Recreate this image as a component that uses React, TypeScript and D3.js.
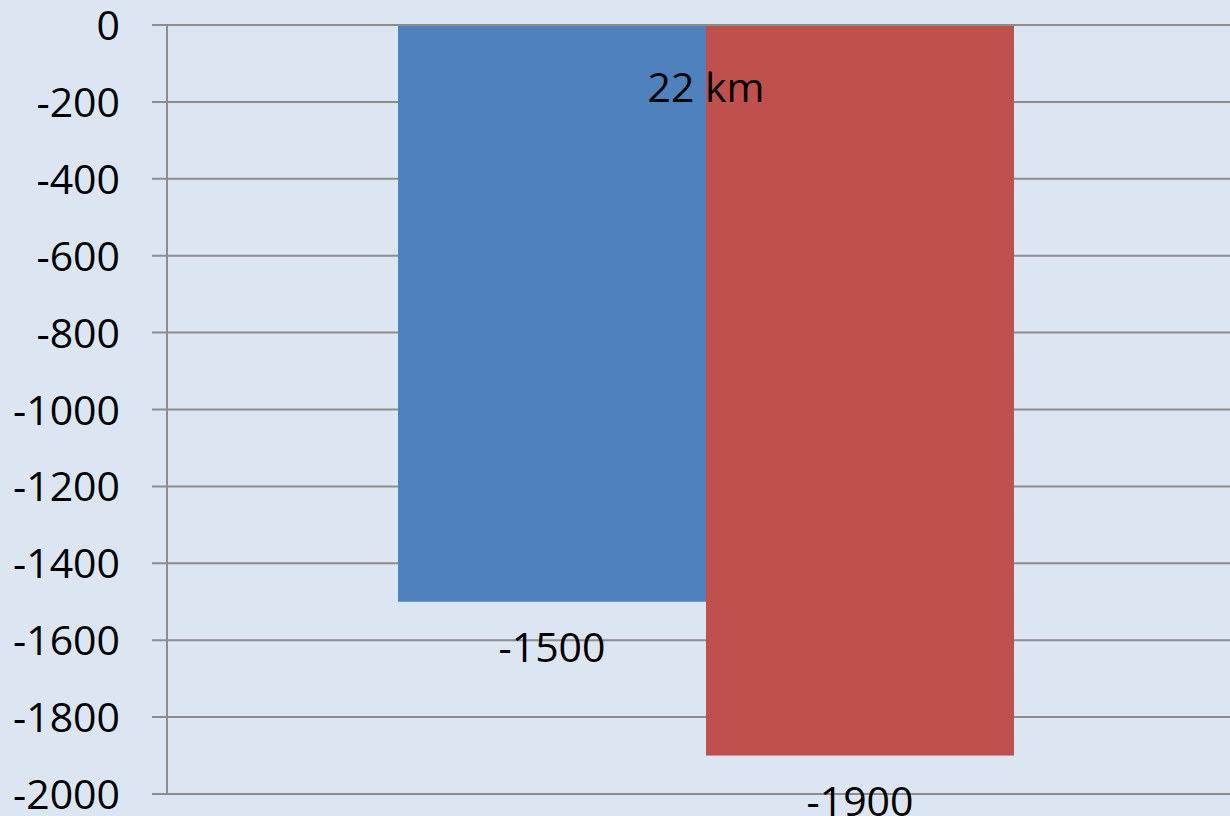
import React from "react";
import * as d3 from "d3";

const categories = ["22 km"];
const seriesNames = ["A", "B"];
const seriesValues = [-1500, -1900];
const seriesColors = ["#4F81BD", "#C0504D"];
const yTicks = [0, -200, -400, -600, -800, -1000, -1200, -1400, -1600, -1800, -2000];

const W = 1230;
const H = 816;
const FONT = "'Open Sans', 'Noto Sans', sans-serif";

export default function App() {
  const y = d3.scaleLinear().domain([0, -2000]).range([25, 794]);
  const x0 = d3.scaleBand<string>().domain(categories).range([167, 1245]).paddingInner(0).paddingOuter(0.375);
  const x1 = d3.scaleBand<string>().domain(seriesNames).range([0, x0.bandwidth()]).padding(0);
  const axisX = 167;
  const cat = categories[0];

  return (
    <div style={{ position: "fixed", left: 0, top: 0, width: W, height: H }}>
      <svg width={W} height={H} style={{ display: "block", background: "#DCE6F2" }}>
        <rect x={0} y={0} width={W} height={H} fill="#DCE6F2" />
        {yTicks.map((t) => (
          <g key={t}>
            <line x1={152} x2={W} y1={y(t)} y2={y(t)} stroke="#8C8C8C" strokeWidth={2} />
            <text x={120} y={y(t) + 15} textAnchor="end" fontFamily={FONT} fontSize={41} fill="#000">
              {t}
            </text>
          </g>
        ))}
        <line x1={axisX} x2={axisX} y1={y(0)} y2={y(-2000)} stroke="#8C8C8C" strokeWidth={2} />
        {seriesValues.map((v, i) => {
          const bx = (x0(cat) ?? 0) + (x1(seriesNames[i]) ?? 0);
          return (
            <rect
              key={i}
              x={bx}
              y={y(0) + 1}
              width={x1.bandwidth()}
              height={y(v) - y(0) - 1}
              fill={seriesColors[i]}
            />
          );
        })}
        {seriesValues.map((v, i) => {
          const cx = (x0(cat) ?? 0) + (x1(seriesNames[i]) ?? 0) + x1.bandwidth() / 2;
          return (
            <text key={i} x={cx} y={y(v) + 60} textAnchor="middle" fontFamily={FONT} fontSize={41} fill="#000">
              {v}
            </text>
          );
        })}
        <text
          x={(x0(cat) ?? 0) + x0.bandwidth() / 2}
          y={102}
          textAnchor="middle"
          fontFamily={FONT}
          fontSize={41}
          fill="#000"
        >
          {cat}
        </text>
      </svg>
    </div>
  );
}
